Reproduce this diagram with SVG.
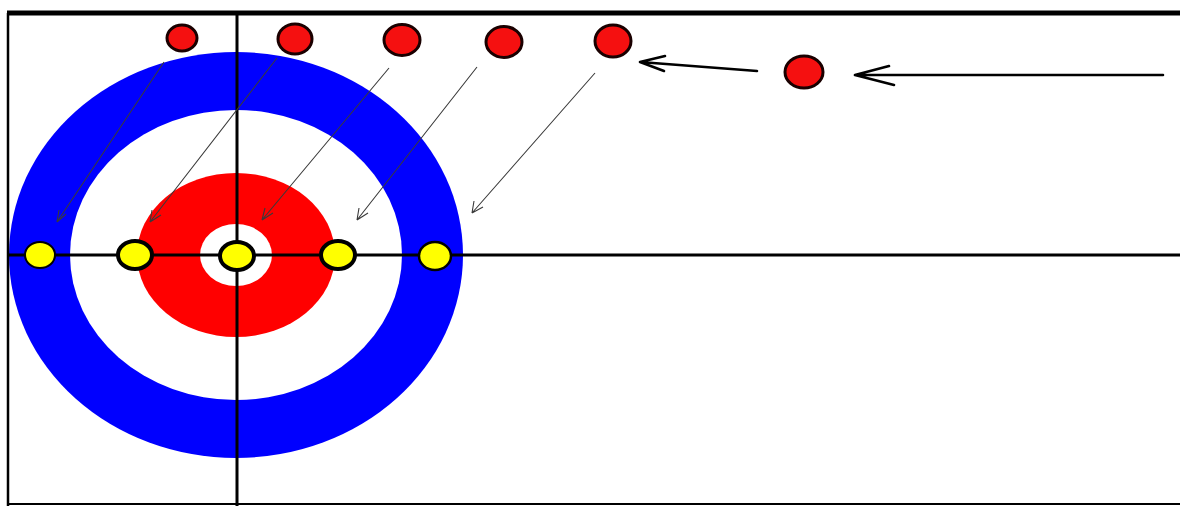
<svg xmlns="http://www.w3.org/2000/svg" width="1180" height="506" viewBox="0 0 1180 506">
<style>
.frame{stroke:#000;fill:none}
.red-stone{fill:#f51010;stroke:#1a0000;stroke-width:3}
.yel{fill:#ffff00;stroke:#000}
.thin{stroke:#3a3a3a;stroke-width:1.1;fill:none}
.thick{stroke:#000;stroke-width:2.6;fill:none;stroke-linecap:round}
</style>
<rect width="1180" height="506" fill="#fff"/>
<g id="house">
<ellipse cx="236" cy="255" rx="227" ry="203" fill="#0000ff"/>
<ellipse cx="236" cy="255" rx="166" ry="145" fill="#fff"/>
<ellipse cx="236" cy="255" rx="99" ry="82" fill="#ff0000"/>
<ellipse cx="236" cy="255" rx="36" ry="31" fill="#fff"/>
</g>
<g id="lines">
<line class="frame" x1="7" y1="13" x2="1180" y2="13" stroke-width="5"/>
<line class="frame" x1="8" y1="13" x2="8" y2="506" stroke-width="2.5"/>
<line class="frame" x1="7" y1="504" x2="1180" y2="504" stroke-width="2"/>
<line class="frame" x1="237" y1="13" x2="237" y2="506" stroke-width="3"/>
<line class="frame" x1="8" y1="255" x2="1180" y2="255" stroke-width="3"/>
</g>
<g id="connectors">
<path class="thin" d="M164,62 L57,222 M57,222 L59,210 M57,222 L66,214"/>
<path class="thin" d="M277,58 L150,222 M150,222 L152,210 M150,222 L161,215"/>
<path class="thin" d="M389,68 L262,220 M262,220 L265,208 M262,220 L273,213"/>
<path class="thin" d="M477,67 L357,220 M357,220 L359,208 M357,220 L368,213"/>
<path class="thin" d="M595,73 L472,213 M472,213 L474,201 M472,213 L483,207"/>
<path class="thick" d="M757,71 L640,62 M640,62 L665,56 M640,62 L664,71"/>
<path class="thick" d="M1163,75 L855,75 M855,75 L889,66 M855,75 L894,85"/>
</g>
<g id="stone-r1"><ellipse class="red-stone" cx="182" cy="38" rx="15" ry="13"/></g>
<g id="stone-r2"><ellipse class="red-stone" cx="295" cy="39" rx="17" ry="15"/></g>
<g id="stone-r3"><ellipse class="red-stone" cx="402" cy="40" rx="18" ry="15.5"/></g>
<g id="stone-r4"><ellipse class="red-stone" cx="504" cy="42" rx="18" ry="15.5"/></g>
<g id="stone-r5"><ellipse class="red-stone" cx="613" cy="41" rx="18" ry="16"/></g>
<g id="stone-r6"><ellipse class="red-stone" cx="804" cy="72" rx="19" ry="16"/></g>
<g id="stone-y1"><ellipse class="yel" cx="40" cy="255" rx="15" ry="13" stroke-width="2"/></g>
<g id="stone-y2"><ellipse class="yel" cx="135" cy="255" rx="17" ry="14" stroke-width="4"/></g>
<g id="stone-y3"><ellipse class="yel" cx="237" cy="256" rx="17" ry="14" stroke-width="4"/></g>
<g id="stone-y4"><ellipse class="yel" cx="338" cy="255" rx="17" ry="14" stroke-width="4"/></g>
<g id="stone-y5"><ellipse class="yel" cx="435" cy="256" rx="16" ry="14" stroke-width="2.5"/></g>
</svg>
